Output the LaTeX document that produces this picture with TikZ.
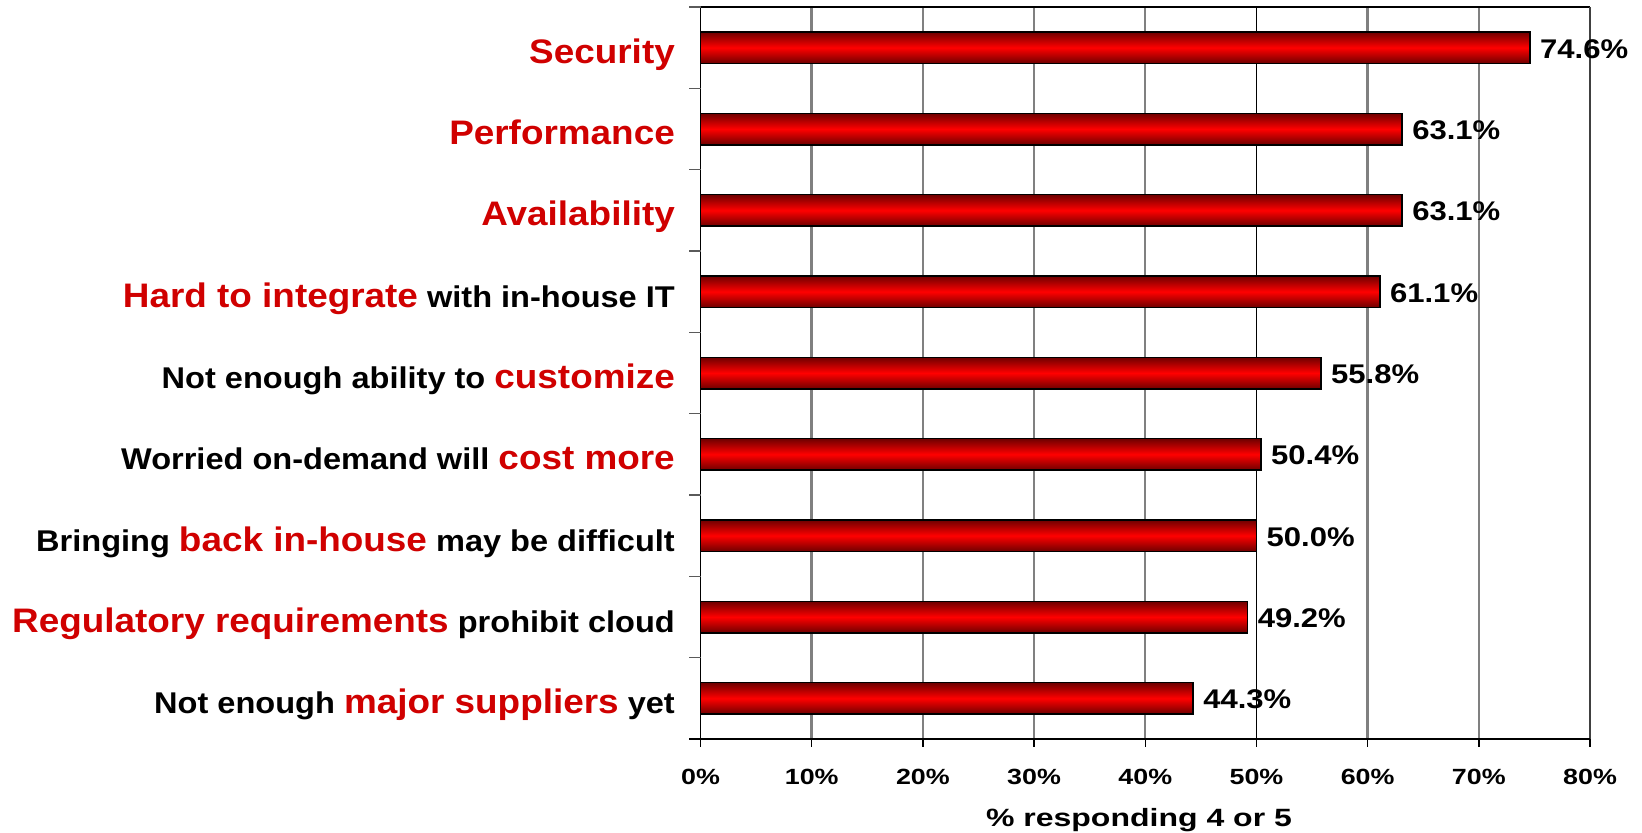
\documentclass[tikz,border=0pt]{standalone}
\usepackage{fontspec}
\setmainfont{Liberation Sans}
\newfontfamily\catfont[FakeStretch=1.085]{Liberation Sans}
\newfontfamily\tickfont[FakeStretch=1.22]{Liberation Sans}
\newfontfamily\valfont[FakeStretch=1.15]{Liberation Sans}
\newfontfamily\titlefont[FakeStretch=1.28]{Liberation Sans}
\definecolor{labred}{RGB}{208,0,0}
\definecolor{bardark}{RGB}{110,0,0}
\definecolor{barbright}{RGB}{255,0,0}
\definecolor{gridgray}{RGB}{128,128,128}
\definecolor{tickgray}{RGB}{90,90,90}
\newcommand\redpart[1]{{\fontsize{34}{40}\selectfont\color{labred}#1}}
\begin{document}
\begin{tikzpicture}[x=1pt,y=-1pt,
  catlabel/.style={anchor=base east, inner sep=0pt, font=\catfont\bfseries\fontsize{30}{36}\selectfont},
  vallabel/.style={anchor=base west, inner sep=0pt, font=\valfont\bfseries\fontsize{27}{32}\selectfont},
  ticklabel/.style={anchor=base, inner sep=0pt, font=\tickfont\bfseries\fontsize{22}{26}\selectfont},
  axistitle/.style={anchor=base, inner sep=0pt, font=\titlefont\bfseries\fontsize{25}{30}\selectfont},
  gridline/.style={draw=gridgray, line width=2.4pt},
  midline/.style={draw=black, line width=1.3pt},
  borderline/.style={draw=black!75, line width=2pt},
  axisline/.style={draw=black, line width=1.4pt},
  tickline/.style={draw=tickgray, line width=1.4pt},
  barstyle/.style={draw=black, line width=1.4pt, top color=bardark, bottom color=bardark, middle color=barbright},
]
\useasboundingbox (0,0) rectangle (1642,833);
\fill[white] (0,0) rectangle (1642,833);
% plot corners
\coordinate (tl) at (700.5,7);
\coordinate (tr) at (1590,7);
\coordinate (bl) at (700.5,739);
\coordinate (br) at (1590,739);
% vertical gridlines
\foreach \k in {1,2,3,4,6,7} {
  \coordinate (gt\k) at (700.5+111.19*\k,7);
  \coordinate (gb\k) at (700.5+111.19*\k,739);
  \draw[gridline] (gt\k) -- (gb\k);
}
\coordinate (gt5) at (700.5+111.19*5,7);
\coordinate (gb5) at (700.5+111.19*5,739);
\draw[midline] (gt5) -- (gb5);
% top border and right border
\draw[axisline] (tl) -- (tr);
\draw[borderline] (tr) -- (br);
% bars and value labels
\foreach \v [count=\i] in {74.6,63.1,63.1,61.1,55.8,50.4,50.0,49.2,44.3} {
  \pgfmathsetmacro\yc{7+81.333*(\i-0.5)}
  \pgfmathsetmacro\xe{700.5+11.119*\v}
  \coordinate (s\i) at (700.5,\yc-15.8);
  \coordinate (e\i) at (\xe,\yc+15.8);
  \path[barstyle] (s\i) rectangle (e\i);
  \node[vallabel] (v\i) at (\xe+10,\yc+10.5) {\v\%};
}
% axes
\coordinate (axl) at (689,739);
\draw[axisline] (tl) -- (bl);
\draw[axisline] (axl) -- (br);
\foreach \k in {0,...,8} {
  \coordinate (ya\k) at (689,7+81.333*\k);
  \coordinate (yb\k) at (700.5,7+81.333*\k);
  \draw[tickline] (ya\k) -- (yb\k);
}
\foreach \k in {0,...,8} {
  \coordinate (xa\k) at (700.5+111.19*\k,739);
  \coordinate (xb\k) at (700.5+111.19*\k,747);
  \draw[axisline] (xa\k) -- (xb\k);
  \pgfmathtruncatemacro\pc{10*\k}
  \node[ticklabel] (t\k) at (700.5+111.19*\k,784) {\pc\%};
}
\node[axistitle] (xtitle) at (1139,826) {\% responding 4 or 5};
% category labels
\node[catlabel] (l1) at (675,47.67+15.6) {\redpart{Security}};
\node[catlabel] (l2) at (675,129+15.6) {\redpart{Performance}};
\node[catlabel] (l3) at (675,210.33+15.6) {\redpart{Availability}};
\node[catlabel] (l4) at (675,291.67+15.6) {\redpart{Hard to integrate} with in-house IT};
\node[catlabel] (l5) at (675,373+15.6) {Not enough ability to \redpart{customize}};
\node[catlabel] (l6) at (675,454.33+15.6) {Worried on-demand will \redpart{cost more}};
\node[catlabel] (l7) at (675,535.67+15.6) {Bringing \redpart{back in-house} may be difficult};
\node[catlabel] (l8) at (675,617+15.6) {\redpart{Regulatory requirements} prohibit cloud};
\node[catlabel] (l9) at (675,698.33+15.6) {Not enough \redpart{major suppliers} yet};
\end{tikzpicture}
\end{document}
